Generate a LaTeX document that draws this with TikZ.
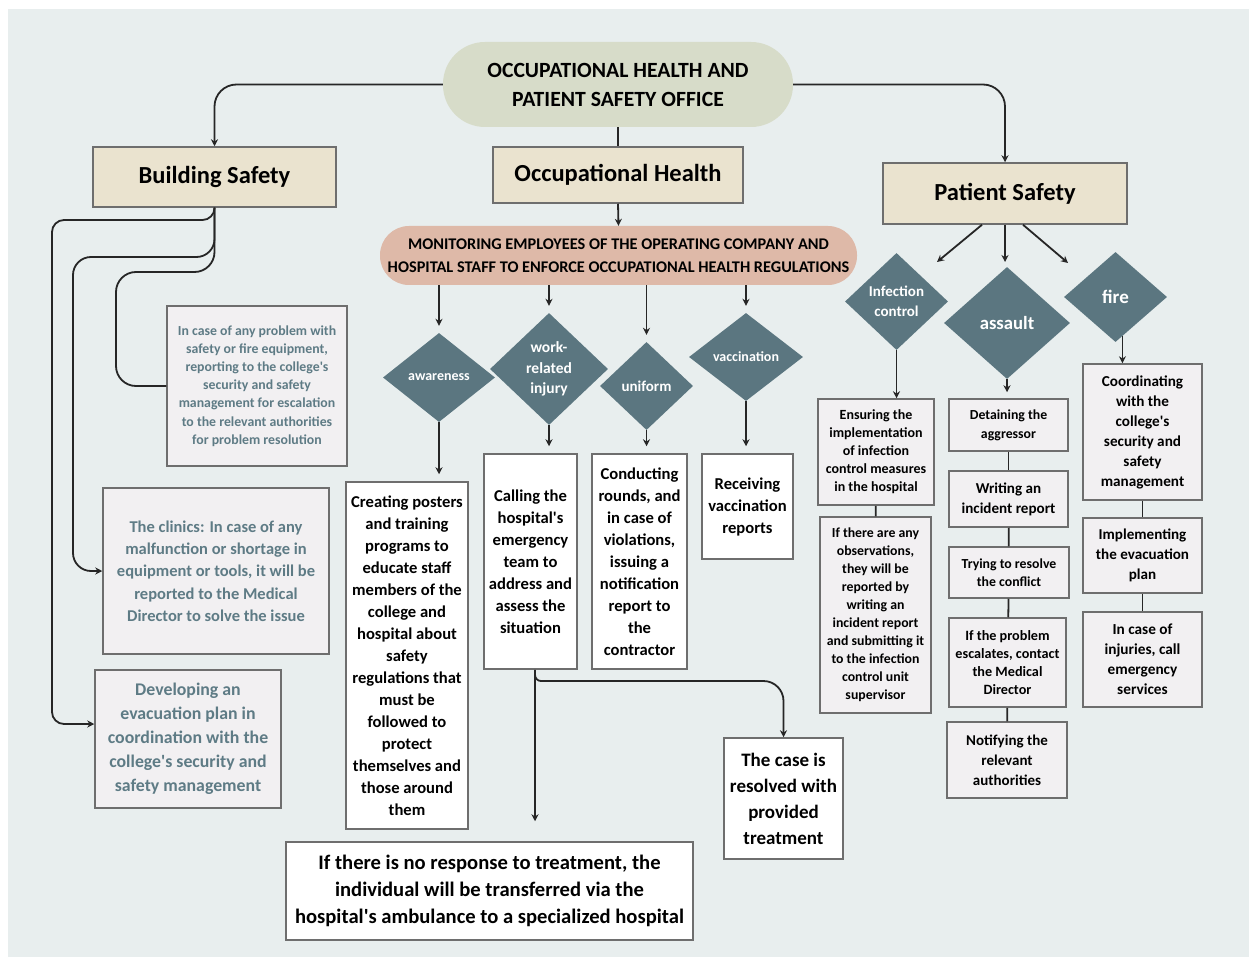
\documentclass[tikz,border=0pt]{standalone}
\usepackage{fontspec}
\setmainfont{Carlito}[Ligatures=TeXOff]
\usetikzlibrary{arrows.meta,shapes.geometric}

\definecolor{paper}{HTML}{E8EEEE}
\definecolor{sage}{HTML}{D7DCC9}
\definecolor{sand}{HTML}{EAE3CF}
\definecolor{blush}{HTML}{DEB9A8}
\definecolor{slate}{HTML}{5B7680}
\definecolor{steel}{HTML}{5E7B85}
\definecolor{mist}{HTML}{F2F0F2}
\definecolor{edge}{HTML}{6E6E6E}

\newcommand\fsz[2]{\fontsize{#1}{#2}\selectfont}

\tikzset{
  wire/.style={line width=1.8pt, black!85},
  arr/.style={wire, -{Stealth[length=7pt,width=7pt]}},
  wh/.style 2 args={minimum width=#1pt, minimum height=#2pt},
  headbox/.style={draw=edge, fill=sand, line width=1.5pt, inner sep=0pt, font=\bfseries\fsz{24.5}{28}},
  pill/.style={inner sep=0pt, align=center},
  choice/.style={diamond, fill=slate, text=white, inner sep=0pt, align=center},
  card/.style={draw=edge, line width=1.5pt, inner sep=0pt, align=center},
  pale/.style={card, fill=mist},
  whitebox/.style={card, fill=white},
}

\begin{document}
\begin{tikzpicture}[x=1pt,y=-1pt]
\useasboundingbox (0,0) rectangle (1249,957);
\fill[paper] (8,9) rectangle (1249,957);

% office and the three sections
\node[pill, fill=sage, rounded corners=42pt, wh={350}{85}, font=\bfseries\fsz{21.7}{29}] (office) at (618,84.5)
  {OCCUPATIONAL HEALTH AND\\PATIENT SAFETY OFFICE};
\node[headbox, wh={243}{60}] (bsafe) at (214.5,177) {Building Safety};
\node[headbox, wh={250}{56}] (ohealth) at (618,175) {Occupational Health};
\node[headbox, wh={244}{61}] (psafe) at (1005,193.5) {Patient Safety};

\draw[arr, rounded corners=22pt] (office.west) -| (bsafe.north);
\draw[arr, rounded corners=22pt] (office.east) -| (psafe.north);
\draw[wire] (office.south) -- (ohealth.north);

% building safety
\node[pale, text=steel, wh={180}{160}, font=\bfseries\fsz{13.8}{18.2}] (report) at (257,386)
  {In case of any problem with\\safety or fire equipment,\\reporting to the college's\\security and safety\\management for escalation\\to the relevant authorities\\for problem resolution};
\node[pale, text=steel, wh={226}{166}, font=\bfseries\fsz{16.5}{22.3}] (clinics) at (216,571)
  {The clinics: In case of any\\malfunction or shortage in\\equipment or tools, it will be\\reported to the Medical\\Director to solve the issue};
\node[pale, text=steel, wh={186}{138}, font=\bfseries\fsz{17.8}{24}] (evacplan) at (188,739)
  {Developing an\\evacuation plan in\\coordination with the\\college's security and\\safety management};

\draw[wire, rounded corners=20pt] (bsafe.south) |- (116,272) |- (report.west);
\draw[arr, rounded corners=18pt] (bsafe.south) |- (73,257) |- (clinics.west);
\draw[arr, rounded corners=12pt] (bsafe.south) |- (52,220) |- ([yshift=15pt]evacplan.west);

% occupational health
\node[pill, fill=blush, rounded corners=29pt, wh={477}{59}, font=\bfseries\fsz{16.3}{23}] (monitor) at (618.5,255.5)
  {MONITORING EMPLOYEES OF THE OPERATING COMPANY AND\\HOSPITAL STAFF TO ENFORCE OCCUPATIONAL HEALTH REGULATIONS};
\draw[arr] (ohealth.south) -- (monitor.north);

\node[choice, wh={112}{89}, font=\bfseries\fsz{14}{18}] (awareness) at (439,377.5) {awareness};
\node[choice, wh={118}{112}, font=\bfseries\fsz{15.5}{20.5}] (injury) at (549,369) {work-\\related\\injury};
\node[choice, wh={93}{88}, font=\bfseries\fsz{15}{18}] (uniform) at (646.5,386) {uniform};
\node[choice, wh={114}{88}, font=\bfseries\fsz{14}{18}] (vaccination) at (746,357) {vaccination};

\node[whitebox, wh={122}{347}, font=\bfseries\fsz{16.6}{22}] (posters) at (407,655.5)
  {Creating posters\\and training\\programs to\\educate staff\\members of the\\college and\\hospital about\\safety\\regulations that\\must be\\followed to\\protect\\themselves and\\those around\\them};
\node[whitebox, wh={93}{215}, font=\bfseries\fsz{16.6}{22}] (calling) at (530.5,561.5)
  {Calling the\\hospital's\\emergency\\team to\\address and\\assess the\\situation};
\node[whitebox, wh={95}{215}, font=\bfseries\fsz{16.6}{22}] (rounds) at (639.5,561.5)
  {Conducting\\rounds, and\\in case of\\violations,\\issuing a\\notification\\report to\\the\\contractor};
\node[whitebox, wh={91}{105}, font=\bfseries\fsz{16.6}{22}] (vaccrep) at (747.5,506.5)
  {Receiving\\vaccination\\reports};
\node[whitebox, wh={119}{121}, font=\bfseries\fsz{19}{26}] (resolved) at (783.5,798.5)
  {The case is\\resolved with\\provided\\treatment};
\node[whitebox, wh={407}{98}, font=\bfseries\fsz{20.6}{27}] (transfer) at (489.5,891)
  {If there is no response to treatment, the\\individual will be transferred via the\\hospital's ambulance to a specialized hospital};

\foreach \d in {awareness,injury,uniform,vaccination}
  \draw[arr, shorten >=7pt] (monitor.south -| \d.north) -- (\d.north);
\foreach \d/\b in {awareness/posters,injury/calling,uniform/rounds,vaccination/vaccrep}
  \draw[arr, shorten >=7pt] (\d.south) -- (\d.south |- \b.north);

\coordinate (split) at (535,681);
\draw[arr, shorten >=20pt] (calling.south -| split) -- (split |- transfer.north);
\draw[arr] (calling.south -| split) [rounded corners=6pt] -- (split) [rounded corners=20pt] -| (resolved.north);

% patient safety
\node[choice, wh={103}{97}, font=\bfseries\fsz{15}{20}] (infection) at (896.5,301.5) {Infection\\control};
\node[choice, wh={126}{112}, font=\bfseries\fsz{18.7}{20}] (assault) at (1007,323) {assault};
\node[choice, wh={103}{90}, font=\bfseries\fsz{19}{20}] (fire) at (1115.5,297) {fire};

\coordinate (ps-left) at (937,262);
\coordinate (ps-mid) at (1005,262);
\coordinate (ps-right) at (1068,263);
\draw[arr] ([xshift=-23pt]psafe.south) -- (ps-left);
\draw[arr] (psafe.south) -- (ps-mid);
\draw[arr] ([xshift=18pt]psafe.south) -- (ps-right);

\node[pale, wh={116}{106}, font=\bfseries\fsz{14}{18}] (ensure) at (876,452)
  {Ensuring the\\implementation\\of infection\\control measures\\in the hospital};
\node[pale, wh={111}{196}, font=\bfseries\fsz{13.8}{18}] (observ) at (875.5,615)
  {If there are any\\observations,\\they will be\\reported by\\writing an\\incident report\\and submitting it\\to the infection\\control unit\\supervisor};

\node[pale, wh={119}{52}, font=\bfseries\fsz{13.8}{18.7}] (detain) at (1008.5,425) {Detaining the\\aggressor};
\node[pale, wh={119}{56}, font=\bfseries\fsz{15.1}{20}] (writing) at (1008.5,499) {Writing an\\incident report};
\node[pale, wh={120}{51}, font=\bfseries\fsz{13.8}{18}] (trying) at (1009,572.5) {Trying to resolve\\the conflict};
\node[pale, wh={117}{89}, font=\bfseries\fsz{14.2}{18}] (escal) at (1007.5,662.5)
  {If the problem\\escalates, contact\\the Medical\\Director};
\node[pale, wh={120}{76}, font=\bfseries\fsz{15}{20}] (notify) at (1007,760) {Notifying the\\relevant\\authorities};

\node[pale, wh={119}{136}, font=\bfseries\fsz{15.2}{20}] (coord) at (1142.5,432)
  {Coordinating\\with the\\college's\\security and\\safety\\management};
\node[pale, wh={119}{75}, font=\bfseries\fsz{15.1}{20}] (implement) at (1142.5,555.5) {Implementing\\the evacuation\\plan};
\node[pale, wh={119}{95}, font=\bfseries\fsz{15.3}{20}] (injuries) at (1142.5,659.5)
  {In case of\\injuries, call\\emergency\\services};

\draw[arr] (infection.south) -- (infection.south |- ensure.north);
\draw[arr, shorten >=6pt] (assault.south) -- (assault.south |- detain.north);
\draw[arr] (fire.-80) -- (fire.-80 |- coord.north);

\foreach \a/\b in {ensure/observ,detain/writing,writing/trying,trying/escal,escal/notify,coord/implement,implement/injuries}
  \draw[wire] (\a) -- (\b);
\end{tikzpicture}
\end{document}
